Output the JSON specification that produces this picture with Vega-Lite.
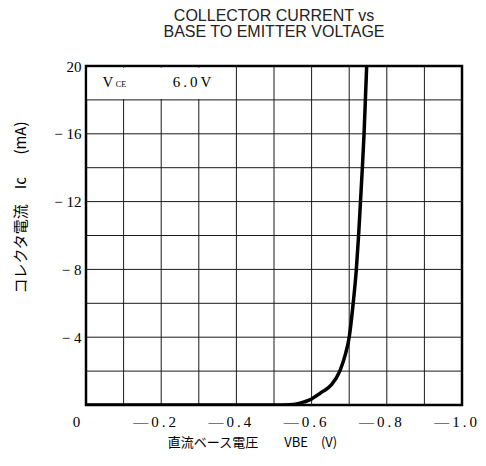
{
  "$schema": "https://vega.github.io/schema/vega-lite/v6.json",
  "width": 376,
  "height": 339,
  "autosize": {"type": "none"},
  "padding": {"left": 86, "top": 66, "right": 24, "bottom": 61},
  "background": "white",
  "config": {
    "view": {"stroke": "black", "strokeWidth": 2.5},
    "axis": {
      "grid": false,
      "ticks": false,
      "domain": false,
      "labelFont": "Liberation Serif",
      "labelFontSize": 15,
      "labelColor": "black",
      "labelOverlap": false,
      "labelFlush": false,
      "labelBound": false,
      "titleFont": "Noto Sans CJK JP",
      "titleFontWeight": "normal",
      "titleColor": "black"
    }
  },
  "title": {
    "text": ["COLLECTOR CURRENT vs", "BASE TO EMITTER VOLTAGE"],
    "font": "Liberation Sans",
    "fontSize": 16,
    "fontWeight": "normal",
    "color": "#222222",
    "offset": 19,
    "lineHeight": 16,
    "anchor": "middle",
    "frame": "group"
  },
  "layer": [
    {
      "data": {"values": [{"v": -0.1}, {"v": -0.2}, {"v": -0.3}, {"v": -0.4}, {"v": -0.5}, {"v": -0.6}, {"v": -0.7}, {"v": -0.8}, {"v": -0.9}]},
      "mark": {"type": "rule", "color": "#1a1a1a", "strokeWidth": 1},
      "encoding": {
        "x": {
          "field": "v",
          "type": "quantitative",
          "scale": {"domain": [0, -1]},
          "axis": {
            "values": [0, -0.2, -0.4, -0.6, -0.8, -1.0],
            "labelExpr": "datum.value == 0 ? '0' : '—\u2009' + replace(format(-datum.value, '.1f'), '.', '\u2009.\u2009')",
            "labelPadding": 9,
            "labelOffset": {"condition": {"test": "datum.value == 0", "value": -10}, "value": -7},
            "title": "直流ベース電圧\u2003\u2003VBE\u2002\u2002(V)",
            "titleFontSize": 13,
            "titleX": 166,
            "titleY": 37,
            "titleAlign": "center",
            "titleBaseline": "middle"
          }
        }
      }
    },
    {
      "data": {"values": [{"i": 2}, {"i": 4}, {"i": 6}, {"i": 8}, {"i": 10}, {"i": 12}, {"i": 14}, {"i": 16}, {"i": 18}]},
      "mark": {"type": "rule", "color": "#1a1a1a", "strokeWidth": 1},
      "encoding": {
        "y": {
          "field": "i",
          "type": "quantitative",
          "scale": {"domain": [0, 20]},
          "axis": {
            "values": [4, 8, 12, 16, 20],
            "labelExpr": "datum.value == 20 ? '20' : '− ' + datum.label",
            "labelPadding": 5,
            "title": "コレクタ電流\u2002\u2002Ic\u2002\u2002\u2002(mA)",
            "titleFontSize": 15,
            "titleX": -66,
            "titleY": 141,
            "titleAlign": "center",
            "titleBaseline": "middle"
          }
        }
      }
    },
    {
      "data": {"values": [{}]},
      "mark": {"type": "rect", "color": "white"},
      "encoding": {
        "x": {"datum": -0.004, "type": "quantitative"},
        "x2": {"datum": -0.396},
        "y": {"datum": 18.06, "type": "quantitative"},
        "y2": {"datum": 19.9}
      }
    },
    {
      "data": {
        "values": [
          {"v": 0, "i": 0},
          {"v": -0.5, "i": 0},
          {"v": -0.54, "i": 0.02},
          {"v": -0.56, "i": 0.06},
          {"v": -0.58, "i": 0.18},
          {"v": -0.6, "i": 0.35},
          {"v": -0.613, "i": 0.55},
          {"v": -0.63, "i": 0.8},
          {"v": -0.653, "i": 1.2},
          {"v": -0.675, "i": 2.0},
          {"v": -0.69, "i": 3.0},
          {"v": -0.7, "i": 4.0},
          {"v": -0.7106, "i": 6.0},
          {"v": -0.719, "i": 8.0},
          {"v": -0.725, "i": 10.0},
          {"v": -0.73, "i": 12.0},
          {"v": -0.735, "i": 14.0},
          {"v": -0.7395, "i": 16.0},
          {"v": -0.743, "i": 18.0},
          {"v": -0.7465, "i": 20.0}
        ]
      },
      "mark": {"type": "line", "color": "black", "strokeWidth": 3.5, "interpolate": "monotone", "clip": true},
      "encoding": {
        "x": {"field": "v", "type": "quantitative"},
        "y": {"field": "i", "type": "quantitative"}
      }
    },
    {
      "data": {"values": [{}]},
      "mark": {"type": "text", "text": "V", "font": "Liberation Serif", "fontSize": 15, "color": "black", "align": "center", "baseline": "middle"},
      "encoding": {
        "x": {"datum": -0.058, "type": "quantitative"},
        "y": {"datum": 19.05, "type": "quantitative"}
      }
    },
    {
      "data": {"values": [{}]},
      "mark": {"type": "text", "text": "CE", "font": "Liberation Serif", "fontSize": 8, "color": "black", "align": "center", "baseline": "middle"},
      "encoding": {
        "x": {"datum": -0.093, "type": "quantitative"},
        "y": {"datum": 18.85, "type": "quantitative"}
      }
    },
    {
      "data": {"values": [{}]},
      "mark": {"type": "text", "text": "6\u2009.\u20090\u2009V", "font": "Liberation Serif", "fontSize": 15, "color": "black", "align": "center", "baseline": "middle"},
      "encoding": {
        "x": {"datum": -0.282, "type": "quantitative"},
        "y": {"datum": 19.05, "type": "quantitative"}
      }
    }
  ]
}
